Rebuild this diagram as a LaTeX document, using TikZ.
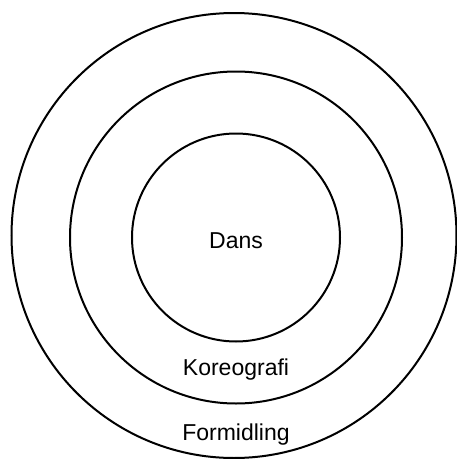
\documentclass[tikz,border=0pt]{standalone}
\usepackage{fontspec}
\setmainfont{Liberation Sans}

\begin{document}
\begin{tikzpicture}[x=1pt, y=-1pt,
    ring/.style={draw, line width=2pt},
    word/.style={anchor=base, inner sep=0pt, font=\fontsize{23}{27}\selectfont}]
  % Frame of the picture, outer ring runs up to the right and bottom edges
  \useasboundingbox (0,0) rectangle (457,459);
  \clip (0,0) rectangle (457,459);

  % Centres of the rings
  \coordinate (c) at (236, 237.5);
  \coordinate (o) at (234, 235.5);

  % Inner and middle rings
  \foreach \r in {104pt, 166pt} {
    \draw[ring] (c) circle (\r);
  }
  % Outer ring
  \draw[ring] (o) circle (222.5pt);

  % Labels of the rings
  \node[word] (dans)       at (236, 248) {Dans};
  \node[word] (koreografi) at (236, 375) {Koreografi};
  \node[word] (formidling) at (236, 440) {Formidling};
\end{tikzpicture}
\end{document}
